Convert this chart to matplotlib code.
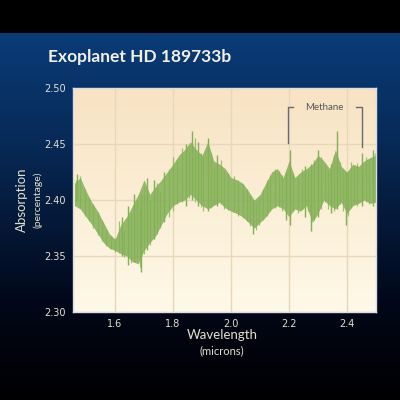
import numpy as np
import matplotlib
matplotlib.use("Agg")
import matplotlib.pyplot as plt
from matplotlib.colors import LinearSegmentedColormap

# --- Data ---

wavelength = [1.46, 1.48, 1.50, 1.52, 1.54, 1.56, 1.58, 1.60, 1.62, 1.64,
              1.66, 1.68, 1.70, 1.72, 1.74, 1.76, 1.78, 1.80, 1.82, 1.84,
              1.86, 1.88, 1.90, 1.92, 1.94, 1.96, 1.98, 2.00, 2.02, 2.04,
              2.06, 2.08, 2.10, 2.12, 2.14, 2.16, 2.18, 2.20, 2.22, 2.24,
              2.26, 2.28, 2.30, 2.32, 2.34, 2.36, 2.38, 2.40, 2.42, 2.44,
              2.46, 2.48, 2.50]
absorb_lo = [2.395, 2.392, 2.385, 2.378, 2.370, 2.362, 2.357, 2.355, 2.352, 2.350,
             2.345, 2.343, 2.355, 2.362, 2.368, 2.378, 2.388, 2.395, 2.398, 2.400,
             2.405, 2.400, 2.395, 2.392, 2.395, 2.398, 2.393, 2.390, 2.388, 2.385,
             2.380, 2.375, 2.380, 2.385, 2.392, 2.395, 2.392, 2.385, 2.392, 2.390,
             2.395, 2.380, 2.388, 2.400, 2.395, 2.392, 2.398, 2.388, 2.395, 2.397,
             2.400, 2.397, 2.398]
absorb_hi = [2.415, 2.420, 2.408, 2.398, 2.390, 2.380, 2.370, 2.365, 2.378, 2.385,
             2.395, 2.405, 2.418, 2.405, 2.412, 2.418, 2.425, 2.432, 2.440, 2.445,
             2.452, 2.445, 2.440, 2.452, 2.435, 2.432, 2.428, 2.420, 2.418, 2.415,
             2.408, 2.400, 2.405, 2.415, 2.425, 2.428, 2.420, 2.435, 2.420, 2.425,
             2.428, 2.432, 2.440, 2.435, 2.428, 2.445, 2.430, 2.425, 2.432, 2.430,
             2.435, 2.438, 2.440]

# tall individual spikes
spike_w = [1.47, 1.625, 1.645, 1.665, 1.69, 1.71, 1.735, 1.77, 1.845, 1.865,
           1.885, 1.92, 1.95, 2.075, 2.19, 2.205, 2.255, 2.275, 2.30, 2.345,
           2.365, 2.395, 2.45, 2.49]
spike_lo = [2.400, 2.350, 2.342, 2.345, 2.336, 2.355, 2.365, 2.380, 2.395, 2.400,
            2.395, 2.390, 2.395, 2.370, 2.382, 2.378, 2.385, 2.372, 2.385, 2.388,
            2.392, 2.378, 2.395, 2.395]
spike_hi = [2.423, 2.385, 2.395, 2.405, 2.405, 2.420, 2.418, 2.425, 2.450, 2.462,
            2.452, 2.455, 2.440, 2.400, 2.425, 2.445, 2.430, 2.432, 2.445, 2.432,
            2.462, 2.425, 2.442, 2.445]

# finer texture of the noisy band
fine_w = [1.465, 1.48, 1.495, 1.51, 1.525, 1.54, 1.555, 1.57, 1.585, 1.60,
          1.615, 1.63, 1.655, 1.675, 1.685, 1.70, 1.72, 1.745, 1.755, 1.785,
          1.80, 1.815, 1.83, 1.855, 1.875, 1.895, 1.905, 1.93, 1.94, 1.965,
          1.975, 1.99, 2.01, 2.025, 2.04, 2.055, 2.065, 2.085, 2.095, 2.11,
          2.125, 2.135, 2.15, 2.165, 2.175, 2.215, 2.23, 2.245, 2.265, 2.285,
          2.31, 2.325, 2.335, 2.355, 2.375, 2.385, 2.405, 2.415, 2.425, 2.435,
          2.465, 2.475, 2.495]
fine_lo = [2.398, 2.393, 2.386, 2.381, 2.375, 2.369, 2.363, 2.359, 2.356, 2.354,
           2.353, 2.349, 2.344, 2.348, 2.340, 2.352, 2.360, 2.370, 2.375, 2.385,
           2.390, 2.396, 2.398, 2.402, 2.398, 2.394, 2.390, 2.393, 2.396, 2.396,
           2.392, 2.391, 2.389, 2.386, 2.384, 2.381, 2.377, 2.373, 2.378, 2.382,
           2.386, 2.390, 2.393, 2.394, 2.390, 2.390, 2.388, 2.392, 2.390, 2.382,
           2.392, 2.398, 2.392, 2.390, 2.396, 2.390, 2.386, 2.393, 2.396, 2.395,
           2.398, 2.396, 2.398]
fine_hi = [2.418, 2.421, 2.410, 2.402, 2.396, 2.389, 2.381, 2.374, 2.368, 2.366,
           2.381, 2.372, 2.388, 2.398, 2.392, 2.412, 2.400, 2.415, 2.408, 2.428,
           2.438, 2.435, 2.446, 2.448, 2.455, 2.442, 2.438, 2.442, 2.430, 2.436,
           2.426, 2.424, 2.421, 2.418, 2.414, 2.410, 2.404, 2.398, 2.402, 2.410,
           2.418, 2.422, 2.428, 2.426, 2.422, 2.424, 2.420, 2.428, 2.426, 2.436,
           2.438, 2.432, 2.426, 2.440, 2.434, 2.428, 2.426, 2.434, 2.430, 2.433,
           2.438, 2.436, 2.442]

x_ticks = [1.6, 1.8, 2.0, 2.2, 2.4]
y_ticks = [2.30, 2.35, 2.40, 2.45, 2.50]

TEXT = "#e4e0cc"
GREEN = "#82b055"

# --- Figure ---

fig = plt.figure(figsize=(4, 4), dpi=100)
fig.patch.set_facecolor("black")

# background: black band on top, navy fading to black
bg = fig.add_axes([0, 0, 1, 1], zorder=0)
bg.set_axis_off()
bg_cmap = LinearSegmentedColormap.from_list(
    "bg", [(0.0, "#000000"), (0.079, "#000000"), (0.08, "#0a3c78"),
           (0.35, "#072a58"), (0.75, "#02081a"), (1.0, "#000000")])
bg.imshow(np.linspace(0, 1, 400).reshape(-1, 1), aspect="auto", cmap=bg_cmap,
          extent=[0, 1, 0, 1])
bg.set_xlim(0, 1)
bg.set_ylim(0, 1)

ax = fig.add_axes([0.1825, 0.22, 0.7575, 0.56], zorder=1)
face_cmap = LinearSegmentedColormap.from_list("face", ["#f8e3c3", "#fef9e8"])
ax.imshow(np.linspace(0, 1, 200).reshape(-1, 1), aspect="auto", cmap=face_cmap,
          extent=[1.455, 2.5, 2.30, 2.50], zorder=0)

ax.set_xlim(1.455, 2.5)
ax.set_ylim(2.30, 2.50)
ax.set_xticks(x_ticks)
ax.set_yticks(y_ticks)
ax.set_xticklabels([f"{v:.1f}" for v in x_ticks])
ax.set_yticklabels([f"{v:.2f}" for v in y_ticks])
ax.grid(True, color="#e8d8ba", linewidth=1.0, zorder=1)
ax.tick_params(length=0, labelsize=7, labelcolor=TEXT, pad=5)
for sp in ax.spines.values():
    sp.set_color("#dcdce6")
    sp.set_linewidth(1.0)

ax.fill_between(wavelength, absorb_lo, absorb_hi, color=GREEN, alpha=0.85,
                linewidth=0, zorder=2)
ax.vlines(fine_w, fine_lo, fine_hi, color=GREEN, linewidth=0.9, alpha=0.75,
          zorder=2)
ax.vlines(spike_w, spike_lo, spike_hi, color=GREEN, linewidth=1.0, zorder=2)

# methane bracket
ax.plot([2.196, 2.196, 2.215], [2.451, 2.483, 2.483], color="#6a6a78",
        linewidth=1.0, zorder=3)
ax.plot([2.430, 2.452, 2.452], [2.483, 2.483, 2.447], color="#6a6a78",
        linewidth=1.0, zorder=3)
ax.text(2.322, 2.483, "Methane", ha="center", va="center", fontsize=7,
        color="#55555f", family="Lato", zorder=3)

fig.text(0.12, 0.857, "Exoplanet HD 189733b", color="#f2f0e4", fontsize=12.5,
         fontweight="bold", family="Lato", va="center")

fig.text(0.056, 0.5, "Absorption", rotation=90, ha="center", va="center",
         color=TEXT, fontsize=9.5, family="Lato")
fig.text(0.094, 0.5, "(percentage)", rotation=90, ha="center", va="center",
         color=TEXT, fontsize=7.5, family="Lato")
fig.text(0.555, 0.162, "Wavelength", ha="center", va="center",
         color=TEXT, fontsize=9.5, family="Lato")
fig.text(0.555, 0.122, "(microns)", ha="center", va="center",
         color=TEXT, fontsize=8, family="Lato")

fig.savefig("out.png", dpi=100, facecolor=fig.get_facecolor())
